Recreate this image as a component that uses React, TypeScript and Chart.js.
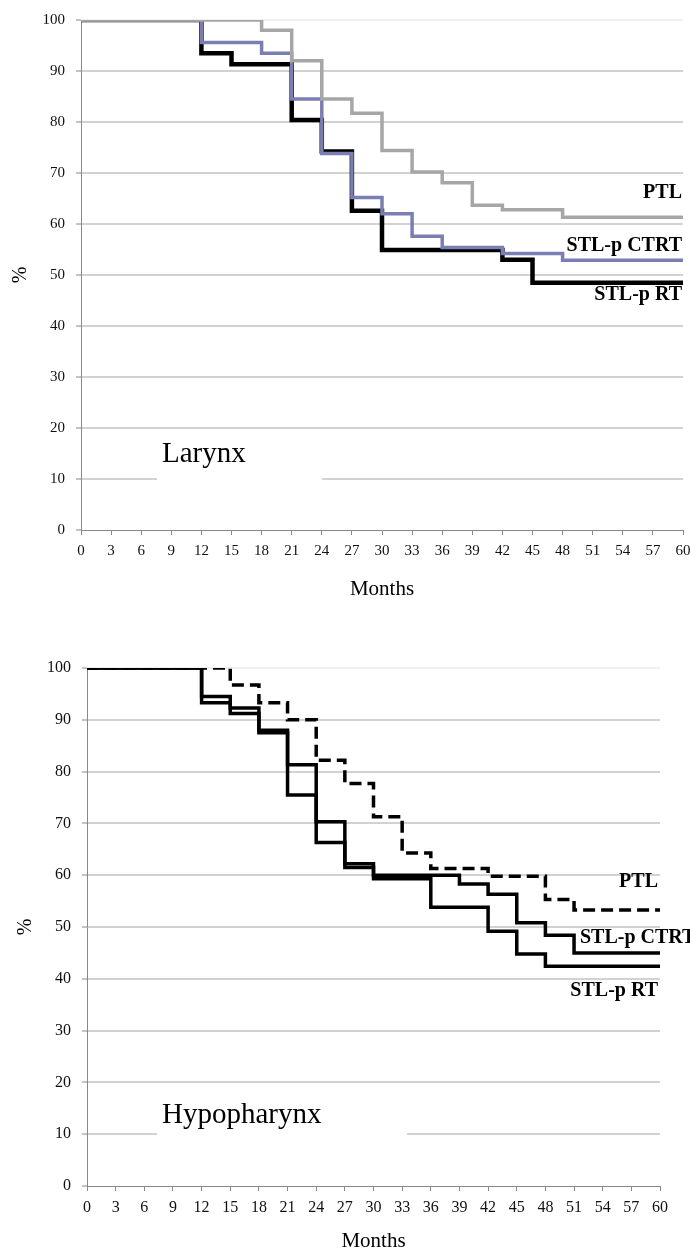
import React, { useEffect, useRef } from 'react';
import { Chart, registerables } from 'chart.js';

Chart.register(...registerables);

// ---------- Data ----------
const MONTH_MIN = 0;
const MONTH_MAX = 60;
const MONTH_STEP = 3;
const PCT_MIN = 0;
const PCT_MAX = 100;
const PCT_STEP = 10;

const SERIES_LABELS = ['PTL', 'STL-p CTRT', 'STL-p RT'];

// Larynx
const larynxPtlMonths = [0, 18, 21, 24, 27, 30, 33, 36, 39, 42, 48, 60];
const larynxPtlValues = [100, 98, 92, 84.5, 81.7, 74.4, 70.2, 68.1, 63.7, 62.8, 61.3, 61.3];
const larynxCtrtMonths = [0, 12, 18, 21, 24, 27, 30, 33, 36, 42, 48, 60];
const larynxCtrtValues = [100, 95.6, 93.5, 84.5, 73.8, 65.2, 62.0, 57.6, 55.4, 54.2, 52.9, 52.9];
const larynxRtMonths = [0, 12, 15, 21, 24, 27, 30, 42, 45, 60];
const larynxRtValues = [100, 93.5, 91.3, 80.4, 74.2, 62.6, 54.9, 53.0, 48.5, 48.5];

// Hypopharynx
const hypoPtlMonths = [0, 15, 18, 21, 24, 27, 30, 33, 36, 42, 48, 51, 60];
const hypoPtlValues = [100, 96.7, 93.3, 90, 82.2, 77.7, 71.3, 64.3, 61.3, 59.8, 55.3, 53.3, 53.3];
const hypoCtrtMonths = [0, 12, 15, 18, 21, 24, 27, 30, 39, 42, 45, 48, 51, 60];
const hypoCtrtValues = [100, 94.5, 92.3, 88, 81.3, 70.3, 62.2, 60, 58.3, 56.3, 50.8, 48.4, 45, 45];
const hypoRtMonths = [0, 12, 15, 18, 21, 24, 27, 30, 36, 42, 45, 48, 60];
const hypoRtValues = [100, 93.3, 91.2, 87.5, 75.5, 66.3, 61.5, 59.3, 53.8, 49.2, 44.8, 42.4, 42.4];

// ---------- Helpers ----------
const SERIF = '"Liberation Serif", "Times New Roman", serif';

type SeriesDef = {
  label: string;
  months: number[];
  values: number[];
  color: string;
  width: number;
  dash?: number[];
};

type TextDef = { text: string; x: number; y: number; align: CanvasTextAlign };

type PanelDef = {
  top: number;
  height: number;
  plotLeft: number;
  plotRight: number;
  plotTop: number;
  plotBottom: number;
  tickFont: number;
  xTitlePad: number;
  yTitlePad: number;
  series: SeriesDef[];
  region: { text: string; x: number; y: number; box: { x: number; y: number; w: number; h: number } };
  labels: TextDef[];
};

function toPoints(months: number[], values: number[]) {
  return months.map((m, i) => ({ x: m, y: values[i] }));
}

function makeAnnotPlugin(p: PanelDef) {
  return {
    id: 'annot',
    beforeDatasetsDraw(chart: any) {
      const ctx = chart.ctx as CanvasRenderingContext2D;
      ctx.save();
      const b = p.region.box;
      ctx.fillStyle = '#ffffff';
      ctx.fillRect(b.x, b.y, b.w, b.h);
      ctx.fillStyle = '#000000';
      ctx.font = `29px ${SERIF}`;
      ctx.textAlign = 'left';
      ctx.textBaseline = 'alphabetic';
      ctx.fillText(p.region.text, p.region.x, p.region.y);
      ctx.restore();
    },
    afterDatasetsDraw(chart: any) {
      const ctx = chart.ctx as CanvasRenderingContext2D;
      ctx.save();
      ctx.fillStyle = '#000000';
      ctx.font = `bold 20px ${SERIF}`;
      ctx.textBaseline = 'middle';
      p.labels.forEach((l) => {
        ctx.textAlign = l.align;
        ctx.fillText(l.text, l.x, l.y);
      });
      ctx.restore();
    },
  };
}

function KMPanel({ panel }: { panel: PanelDef }) {
  const ref = useRef<HTMLCanvasElement | null>(null);

  useEffect(() => {
    if (!ref.current) return;
    const p = panel;
    const chart = new Chart(ref.current, {
      type: 'line',
      data: {
        datasets: p.series.map((s) => ({
          label: s.label,
          data: toPoints(s.months, s.values),
          borderColor: s.color,
          backgroundColor: s.color,
          borderWidth: s.width,
          borderDash: s.dash || [],
          borderCapStyle: 'butt',
          borderJoinStyle: 'miter',
          stepped: 'before',
          pointRadius: 0,
          pointHoverRadius: 0,
          fill: false,
          tension: 0,
        })),
      },
      options: {
        responsive: false,
        animation: false,
        events: [],
        layout: {
          padding: {
            left: 0,
            top: p.plotTop,
            right: 690 - p.plotRight,
            bottom: 0,
          },
        },
        plugins: {
          legend: { display: false },
          tooltip: { enabled: false },
          title: { display: false },
        },
        scales: {
          x: {
            type: 'linear',
            min: MONTH_MIN,
            max: MONTH_MAX,
            ticks: {
              stepSize: MONTH_STEP,
              autoSkip: false,
              maxRotation: 0,
              color: '#111',
              padding: 7,
              font: { family: SERIF, size: p.tickFont },
            },
            grid: {
              drawOnChartArea: false,
              drawTicks: true,
              tickLength: 5,
              tickColor: '#888',
              tickWidth: 1,
            },
            border: { display: true, color: '#888', width: 1 },
            title: {
              display: true,
              text: 'Months',
              color: '#000',
              font: { family: SERIF, size: 21 },
              padding: { top: 0, bottom: p.xTitlePad },
            },
            afterFit: (scale: any) => {
              scale.height = p.height - p.plotBottom;
              scale.paddingLeft = 0;
              scale.paddingRight = 0;
            },
          },
          y: {
            type: 'linear',
            min: PCT_MIN,
            max: PCT_MAX,
            ticks: {
              stepSize: PCT_STEP,
              color: '#111',
              padding: 11,
              font: { family: SERIF, size: p.tickFont },
            },
            grid: {
              drawTicks: true,
              tickLength: 5,
              tickColor: '#888',
              tickWidth: 1,
              lineWidth: 2,
              color: (ctx: any) => {
                const v = ctx.tick ? ctx.tick.value : null;
                if (v === PCT_MIN) return 'rgba(0,0,0,0)';
                if (v === PCT_MAX) return '#f0f0f0';
                return '#d2d2d2';
              },
            },
            border: { display: true, color: '#888', width: 1 },
            title: {
              display: true,
              text: '%',
              color: '#000',
              font: { family: SERIF, size: 20 },
              padding: { top: p.yTitlePad, bottom: 0 },
            },
            afterFit: (scale: any) => {
              scale.width = p.plotLeft;
              scale.paddingTop = 0;
              scale.paddingBottom = 0;
            },
          },
        },
      } as any,
      plugins: [makeAnnotPlugin(p)],
    });
    return () => chart.destroy();
  }, [panel]);

  return (
    <canvas
      ref={ref}
      width={690}
      height={panel.height}
      style={{ position: 'absolute', left: 0, top: panel.top, width: 690, height: panel.height, display: 'block' }}
    />
  );
}

const larynxPanel: PanelDef = {
  top: 0,
  height: 610,
  plotLeft: 81,
  plotRight: 683,
  plotTop: 20,
  plotBottom: 530,
  tickFont: 15,
  xTitlePad: 8,
  yTitlePad: 9,
  series: [
    { label: SERIES_LABELS[0], months: larynxPtlMonths, values: larynxPtlValues, color: '#a6a6a6', width: 3.5 },
    { label: SERIES_LABELS[1], months: larynxCtrtMonths, values: larynxCtrtValues, color: '#7a7eb2', width: 3.5 },
    { label: SERIES_LABELS[2], months: larynxRtMonths, values: larynxRtValues, color: '#000000', width: 4.5 },
  ],
  region: { text: 'Larynx', x: 162, y: 462, box: { x: 157, y: 434, w: 165, h: 60 } },
  labels: [
    { text: SERIES_LABELS[0], x: 682, y: 193, align: 'right' },
    { text: SERIES_LABELS[1], x: 682, y: 246, align: 'right' },
    { text: SERIES_LABELS[2], x: 682, y: 295, align: 'right' },
  ],
};

const hypoPanel: PanelDef = {
  top: 640,
  height: 620,
  plotLeft: 87,
  plotRight: 660,
  plotTop: 28,
  plotBottom: 546,
  tickFont: 16,
  xTitlePad: 6,
  yTitlePad: 14,
  series: [
    { label: SERIES_LABELS[0], months: hypoPtlMonths, values: hypoPtlValues, color: '#000000', width: 3.5, dash: [12, 6] },
    { label: SERIES_LABELS[1], months: hypoCtrtMonths, values: hypoCtrtValues, color: '#000000', width: 3.5 },
    { label: SERIES_LABELS[2], months: hypoRtMonths, values: hypoRtValues, color: '#000000', width: 3.5 },
  ],
  region: { text: 'Hypopharynx', x: 162, y: 483, box: { x: 157, y: 450, w: 250, h: 60 } },
  labels: [
    { text: SERIES_LABELS[0], x: 658, y: 242, align: 'right' },
    { text: SERIES_LABELS[1], x: 580, y: 298, align: 'left' },
    { text: SERIES_LABELS[2], x: 658, y: 351, align: 'right' },
  ],
};

export default function App() {
  return (
    <div
      style={{
        position: 'absolute',
        left: 0,
        top: 0,
        width: 690,
        height: 1249,
        overflow: 'hidden',
        background: '#ffffff',
      }}
    >
      <KMPanel panel={larynxPanel} />
      <KMPanel panel={hypoPanel} />
    </div>
  );
}
